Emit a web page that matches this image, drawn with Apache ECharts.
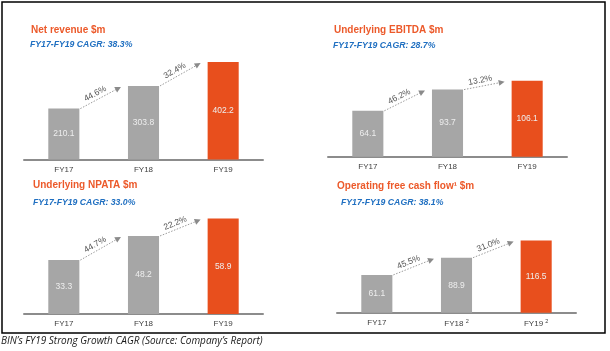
<!DOCTYPE html>
<html>
<head>
<meta charset="utf-8">
<script src="https://cdn.jsdelivr.net/npm/echarts@6/dist/echarts.min.js"></script>
<style>
  html, body { margin: 0; padding: 0; background: #fff; }
  #chart { width: 610px; height: 351px; }
</style>
</head>
<body>
<div id="chart"></div>
<script>
// categories
const years = ["FY17", "FY18", "FY19"];
const fcfNotes = ["", "2", "2"];

// series values
const netRevenue = [210.1, 303.8, 402.2];
const ebitda = [64.1, 93.7, 106.1];
const npata = [33.3, 48.2, 58.9];
const freeCashFlow = [61.1, 88.9, 116.5];

// year on year growth labels
const revenueGrowth = ["44.6%", "32.4%"];
const ebitdaGrowth = ["46.2%", "13.2%"];
const npataGrowth = ["44.7%", "22.2%"];
const fcfGrowth = ["45.5%", "31.0%"];

// panel titles
const panelTitles = ["Net revenue $m", "Underlying EBITDA $m", "Underlying NPATA $m", "Operating free cash flow\u00b9 $m"];
const cagrTexts = ["FY17-FY19 CAGR: 38.3%", "FY17-FY19 CAGR: 28.7%", "FY17-FY19 CAGR: 33.0%", "FY17-FY19 CAGR: 38.1%"];

const GREY = "#a6a6a6";
const ORANGE = "#e84f1d";
const BAR_RATIO = 0.39;
const FONT = "'Liberation Sans', Arial, sans-serif";

const panels = [
  { values: netRevenue, growth: revenueGrowth, max: 452, grid: { left: 24, top: 50, width: 239, height: 109.5 }, title: [31, 25], sub: [30, 40.5] },
  { values: ebitda, growth: ebitdaGrowth, max: 149, grid: { left: 328, top: 50, width: 239, height: 106.7 }, title: [334, 25], sub: [333, 41] },
  { values: npata, growth: npataGrowth, max: 67.3, grid: { left: 24, top: 205, width: 239, height: 109 }, title: [33, 180], sub: [33, 198.5] },
  { values: freeCashFlow, growth: fcfGrowth, max: 174, grid: { left: 337, top: 205, width: 239, height: 107.7 }, title: [337, 181], sub: [341, 198.5], notes: fcfNotes }
];

function arrowItem(growth) {
  return function (params, api) {
    const i = api.value(0);
    const a = api.coord([i, api.value(1)]);
    const b = api.coord([i + 1, api.value(2)]);
    const half = api.size([1, 0])[0] * BAR_RATIO / 2;
    const x0 = a[0] + half + 1, y0 = a[1];
    const x1 = b[0] - half - 7, y1 = b[1] + 1;
    const len = Math.hypot(x1 - x0, y1 - y0);
    const ux = (x1 - x0) / len, uy = (y1 - y0) / len;
    const nx = uy, ny = -ux; // normal pointing up
    const ang = Math.atan2(y0 - y1, x1 - x0);
    const mx = (x0 + x1) / 2, my = (y0 + y1) / 2;
    return {
      type: "group",
      children: [
        {
          type: "line",
          shape: { x1: x0, y1: y0, x2: x1 - ux * 4, y2: y1 - uy * 4 },
          style: { stroke: "#9a9a9a", lineWidth: 1, lineDash: [1.5, 1.5] }
        },
        {
          type: "polygon",
          shape: {
            points: [
              [x1, y1],
              [x1 - ux * 6 + nx * 3, y1 - uy * 6 + ny * 3],
              [x1 - ux * 6 - nx * 3, y1 - uy * 6 - ny * 3]
            ]
          },
          style: { fill: "#8a8a8a" }
        },
        {
          type: "text",
          x: mx + nx * 6 - ux * 3,
          y: my + ny * 6 - uy * 3,
          rotation: ang,
          style: {
            text: growth[params.dataIndex],
            fill: "#555",
            font: "8.5px " + FONT,
            align: "center",
            verticalAlign: "middle"
          }
        }
      ]
    };
  };
}

const option = {
  animation: false,
  title: [],
  grid: [],
  xAxis: [],
  yAxis: [],
  series: [],
  graphic: [
    {
      type: "rect",
      shape: { x: 2, y: 2, width: 603, height: 331 },
      style: { fill: "none", stroke: "#000", lineWidth: 1.5 }
    },
    {
      type: "text",
      left: 1,
      top: 336,
      style: {
        text: "BIN\u2019s FY19 Strong Growth CAGR (Source: Company\u2019s Report)",
        fill: "#1a1a1a",
        font: "italic 10px 'Open Sans', sans-serif"
      }
    }
  ]
};

panels.forEach((p, k) => {
  option.title.push({
    text: panelTitles[k],
    left: p.title[0],
    top: p.title[1],
    padding: 0,
    textStyle: { color: "#ec5a2b", fontSize: 10, fontWeight: "bold", fontFamily: FONT }
  });
  option.title.push({
    text: cagrTexts[k],
    left: p.sub[0],
    top: p.sub[1],
    padding: 0,
    textStyle: { color: "#1f6fc1", fontSize: 8.7, fontWeight: "bold", fontStyle: "italic", fontFamily: FONT }
  });
  option.grid.push(p.grid);
  option.xAxis.push({
    type: "category",
    gridIndex: k,
    data: years,
    axisLine: { lineStyle: { color: "#8c8c8c", width: 2 } },
    axisTick: { show: false },
    axisLabel: {
      margin: 6,
      color: "#404040",
      fontSize: 8,
      fontFamily: FONT,
      formatter: (v, idx) => p.notes && p.notes[idx] ? v + " {sup|" + p.notes[idx] + "}" : v,
      rich: { sup: { fontSize: 5.5, color: "#404040", verticalAlign: "top", padding: [0, 0, 5, 0] } }
    }
  });
  option.yAxis.push({ type: "value", gridIndex: k, min: 0, max: p.max, show: false, splitLine: { show: false } });
  option.series.push({
    type: "bar",
    xAxisIndex: k,
    yAxisIndex: k,
    barWidth: BAR_RATIO * 100 + "%",
    data: p.values.map((v, i) => ({ value: v, itemStyle: { color: i === 2 ? ORANGE : GREY } })),
    label: {
      show: true,
      position: "inside",
      color: "#eeeeee",
      fontSize: 8.5,
      fontFamily: FONT,
      formatter: (d) => d.value.toFixed(1)
    }
  });
  option.series.push({
    type: "custom",
    xAxisIndex: k,
    yAxisIndex: k,
    silent: true,
    z: 5,
    renderItem: arrowItem(p.growth),
    data: p.growth.map((g, i) => [i, p.values[i], p.values[i + 1]])
  });
});

const chart = echarts.init(document.getElementById("chart"), null, { renderer: "canvas" });
chart.setOption(option);
</script>
</body>
</html>
